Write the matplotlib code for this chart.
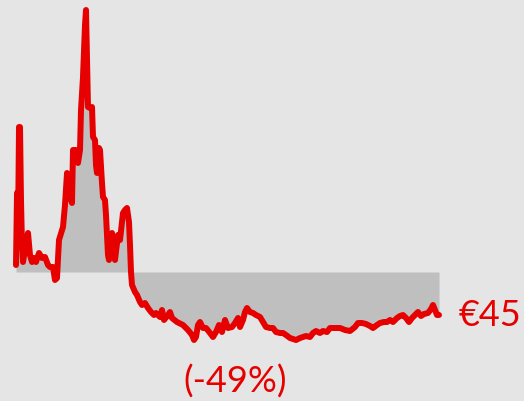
import matplotlib.pyplot as plt

# weekly closing price (EUR)
week = [0, 1, 2, 3, 4, 5, 6, 7, 9, 12, 14, 16, 18, 20, 23, 26, 29, 32, 34, 37,
        39, 41, 43, 46, 47, 49, 51, 53, 54, 56, 57, 60, 62, 64, 65, 67, 68, 69,
        70, 71, 72, 74, 76, 77, 79, 80, 81, 83, 84, 86, 87, 89, 90, 92, 93, 96,
        98, 99, 102, 104, 107, 109, 111, 113, 114, 115, 116, 119, 121, 124,
        126, 129, 132, 135, 138, 140, 144, 146, 148, 152, 154, 156, 161, 167,
        172, 176, 178, 180, 182, 184, 187, 190, 194, 197, 200, 203, 206, 209,
        212, 216, 219, 222, 224, 227, 229, 231, 234, 237, 240, 244, 247, 250,
        254, 257, 260, 264, 267, 270, 274, 277, 280, 284, 287, 290, 294, 297,
        300, 304, 307, 311, 314, 319, 324, 329, 334, 339, 342, 346, 350, 354,
        357, 361, 364, 368, 371, 374, 377, 381, 384, 387, 390, 393, 396, 399,
        402, 405, 408, 412, 415, 417, 419, 421, 423]
price = [95, 167, 125, 233, 233, 160, 115, 98, 110, 127, 105, 98, 102, 98, 107,
         102, 103, 95, 93, 93, 80, 82, 120, 130, 133, 155, 187, 170, 163, 157,
         210, 210, 197, 210, 250, 283, 310, 335, 350, 300, 253, 252, 253, 223,
         220, 195, 187, 212, 210, 177, 163, 160, 145, 105, 100, 127, 110, 100,
         125, 120, 147, 150, 152, 138, 115, 88, 75, 68, 65, 58, 55, 57, 52, 48,
         45, 47, 43, 50, 40, 45, 48, 42, 38, 35, 30, 25, 20, 23, 35, 38, 32, 32,
         27, 23, 28, 35, 28, 40, 32, 33, 37, 42, 33, 40, 48, 52, 48, 47, 45, 43,
         38, 33, 32, 32, 28, 27, 27, 25, 22, 21, 20, 22, 23, 24, 23, 27, 29, 27,
         29, 28, 32, 32, 32, 30, 29, 33, 37, 37, 36, 34, 32, 35, 37, 38, 38, 40,
         38, 42, 44, 45, 42, 38, 42, 45, 48, 44, 46, 47, 51, 55, 50, 45, 45]

base = 88  # reference price (start of the period)
last = price[-1]
change = last / base - 1

red = "#e60000"
bg = "#e5e5e5"

plt.figure(figsize=(5.24, 4.01), dpi=100, facecolor=bg)
ax = plt.axes([0, 0, 1, 1], facecolor=bg)

ax.fill_between(week, price, base, color="#bfbfbf", linewidth=0)
ax.plot(week, price, color=red, linewidth=4.3, solid_joinstyle="round",
        solid_capstyle="round")

ax.text(week[-1] + 20, last, "€%d" % last, color=red, fontsize=26,
        family="Lato", va="center", ha="left")
ax.text(219, -22, "(%d%%)" % round(change * 100), color=red, fontsize=26,
        family="Lato", va="center", ha="center")

ax.set_xlim(-16, 508)
ax.set_ylim(-41, 360)
ax.axis("off")

plt.savefig("out.png", dpi=100, facecolor=bg)
